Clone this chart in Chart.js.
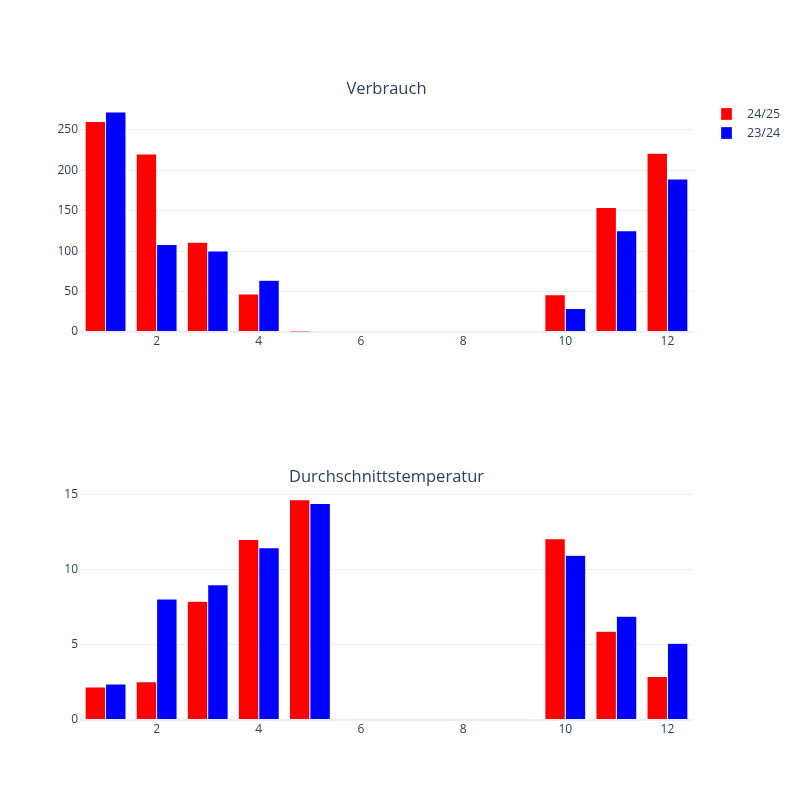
<!DOCTYPE html>
<html>
<head>
<meta charset="utf-8">
<script src="https://cdn.jsdelivr.net/npm/chart.js@4"></script>
<style>
  html, body { margin: 0; padding: 0; background: #fff; }
  #wrap { position: relative; width: 800px; height: 800px; }
  .c { position: absolute; left: 0; width: 800px; height: 400px; }
</style>
</head>
<body>
<div id="wrap">
  <div class="c" style="top:0"><canvas id="top"></canvas></div>
  <div class="c" style="top:400px"><canvas id="bottom"></canvas></div>
</div>
<script>
// ---- data ----
const months = ['1','2','3','4','5','6','7','8','9','10','11','12'];
const seriesNames = ['24/25', '23/24'];
const verbrauch2425 = [260, 220, 111, 47, 0.3, 0, 0, 0, 0, 46, 154, 221];
const verbrauch2324 = [272, 108, 100, 64, 1.2, 0, 0, 0, 0, 29, 125, 189];
const temp2425 = [2.2, 2.55, 7.9, 12.0, 14.65, 0, 0, 0, 0, 12.05, 5.9, 2.9];
const temp2324 = [2.4, 8.05, 9.0, 11.45, 14.4, 0, 0, 0, 0, 10.95, 6.9, 5.1];
const titles = ['Verbrauch', 'Durchschnittstemperatur'];
const xTickLabels = ['', '2', '', '4', '', '6', '', '8', '', '10', '', '12'];
const verbrauchTicks = [0, 50, 100, 150, 200, 250];
const tempTicks = [0, 5, 10, 15];

const FONT = '"Open Sans", "Noto Sans", sans-serif';
const TXT = '#2a3f5f';
const GRID = '#EBF0F8';
const colors = ['#ff0000', '#0000ff'];

Chart.defaults.font.family = FONT;
Chart.defaults.font.size = 12;
Chart.defaults.color = TXT;

function titlePlugin(text, y) {
  return {
    id: 'subTitle',
    afterDraw(chart) {
      const ctx = chart.ctx, a = chart.chartArea;
      ctx.save();
      ctx.font = '16.5px ' + FONT;
      ctx.fillStyle = TXT;
      ctx.textAlign = 'center';
      ctx.textBaseline = 'middle';
      ctx.fillText(text, (a.left + a.right) / 2, y);
      ctx.restore();
    }
  };
}

const legendPlugin = {
  id: 'sideLegend',
  afterDraw(chart) {
    const ctx = chart.ctx;
    ctx.save();
    ctx.font = '12.5px ' + FONT;
    ctx.textBaseline = 'middle';
    ctx.textAlign = 'left';
    seriesNames.forEach((n, i) => {
      const cy = 114 + i * 19;
      ctx.fillStyle = colors[i];
      ctx.fillRect(721, cy - 6, 11, 12);
      ctx.strokeStyle = 'rgba(255,255,255,0.6)';
      ctx.lineWidth = 0.5;
      ctx.strokeRect(721, cy - 6, 11, 12);
      ctx.fillStyle = TXT;
      ctx.fillText(n, 747, cy);
    });
    ctx.restore();
  }
};

function makeChart(id, a, b, yMax, tickVals, padTop, padBottom, plugins) {
  return new Chart(document.getElementById(id), {
    type: 'bar',
    data: {
      labels: months,
      datasets: [
        { label: seriesNames[0], data: a, backgroundColor: colors[0], borderColor: 'rgba(255,255,255,0.7)', borderWidth: 0.5,
          categoryPercentage: 0.8, barPercentage: 1.0 },
        { label: seriesNames[1], data: b, backgroundColor: colors[1], borderColor: 'rgba(255,255,255,0.7)', borderWidth: 0.5,
          categoryPercentage: 0.8, barPercentage: 1.0 }
      ]
    },
    options: {
      responsive: false,
      animation: false,
      devicePixelRatio: 1,
      layout: { padding: { top: padTop, bottom: padBottom, left: 0, right: 107 } },
      plugins: { legend: { display: false }, title: { display: false }, tooltip: { enabled: false } },
      scales: {
        x: {
          type: 'category',
          offset: true,
          grid: { display: false, drawTicks: false },
          border: { display: false },
          ticks: {
            autoSkip: false, maxRotation: 0, padding: 2,
            callback: (v, i) => xTickLabels[i]
          },
          afterFit(s) { s.height = 30; }
        },
        y: {
          min: 0, max: yMax,
          border: { display: false },
          grid: {
            color: GRID, drawTicks: false,
            lineWidth: (c) => (c.tick && c.tick.value === 0 ? 2 : 1)
          },
          ticks: { padding: 2 },
          afterBuildTicks(s) { s.ticks = tickVals.map(v => ({ value: v })); },
          afterFit(s) { s.width = 80; }
        }
      }
    },
    plugins
  });
}

function sizeCanvas(id) {
  const c = document.getElementById(id);
  c.width = 800; c.height = 400;
  c.style.width = '800px'; c.style.height = '400px';
}
sizeCanvas('top'); sizeCanvas('bottom');

// top: chart area 100..332 ; bottom: 88..320 (page 488..720)
makeChart('top', verbrauch2425, verbrauch2324, 286.7, verbrauchTicks, 100, 400 - 332 - 30,
  [titlePlugin(titles[0], 89), legendPlugin]);
makeChart('bottom', temp2425, temp2324, 15.43, tempTicks, 88, 400 - 320 - 30,
  [titlePlugin(titles[1], 77)]);
</script>
</body>
</html>
